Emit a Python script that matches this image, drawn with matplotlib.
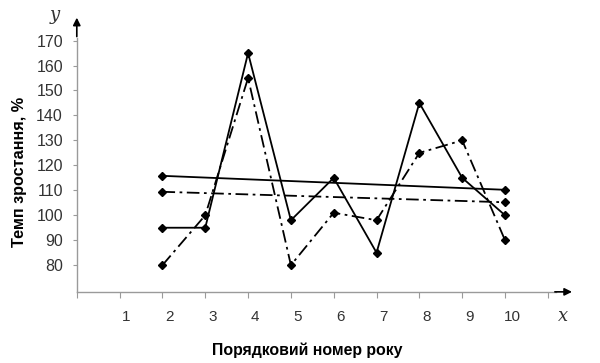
import numpy as np
import matplotlib
matplotlib.use('Agg')
from matplotlib import pyplot as plt
from matplotlib import transforms

# data
years = [2, 3, 4, 5, 6, 7, 8, 9, 10]
rate_a = [95, 95, 165, 98, 115, 85, 145, 115, 100]     # solid
rate_b = [80, 100, 155, 80, 101, 98, 125, 130, 90]     # dash-dot
trend_x = [2, 10]
trend_a = [115.8, 110.2]
trend_b = [109.4, 105.2]
xtick_pos = list(range(0, 12))
xtick_lab = [''] + [str(i) for i in range(1, 11)] + ['']
ytick_pos = list(range(80, 171, 10))

plt.rcParams['font.family'] = ['Liberation Sans', 'DejaVu Sans']

fig = plt.figure(figsize=(6, 3.63), dpi=100)
ax = fig.add_axes([0.128, 0.196, 0.83, 0.763])

dashdot = (0, (7, 2.5, 1.5, 2.5))
mk = dict(marker='D', markersize=4.5, color='black', lw=1.3)
ax.plot(years, rate_a, linestyle='-', **mk)
ax.plot(years, rate_b, linestyle=dashdot, **mk)
ax.plot(trend_x, trend_a, linestyle='-', **mk)
ax.plot(trend_x, trend_b, linestyle=dashdot, **mk)

ax.set_xlim(0, 11.63)
ax.set_ylim(69.3, 180.3)

for s in ['top', 'right']:
    ax.spines[s].set_visible(False)
for s in ['left', 'bottom']:
    ax.spines[s].set_color('#9a9a9a')
    ax.spines[s].set_linewidth(1.0)
ax.spines['left'].set_bounds(69.3, 171)
ax.spines['bottom'].set_bounds(0, 11.2)

ax.set_xticks(xtick_pos)
ax.set_xticklabels(xtick_lab)
ax.set_yticks(ytick_pos)
ax.tick_params(axis='x', length=4, color='#9a9a9a', pad=9, labelsize=11, labelcolor='#333333')
ax.tick_params(axis='y', length=3, color='#9a9a9a', pad=7, labelsize=11.5, labelcolor='#333333')
off = transforms.ScaledTranslation(5 / 72, 0, fig.dpi_scale_trans)
for lab in ax.get_xticklabels():
    lab.set_transform(lab.get_transform() + off)

# arrows at the axis ends
ax.annotate('', xy=(0, 180.3), xytext=(0, 170.5), annotation_clip=False,
            arrowprops=dict(arrowstyle='-|>', color='black', lw=1.2, mutation_scale=11))
ax.annotate('', xy=(11.63, 69.3), xytext=(11.1, 69.3), annotation_clip=False,
            arrowprops=dict(arrowstyle='-|>', color='black', lw=1.2, mutation_scale=11))

fig.text(55 / 600, 1 - 15 / 363, 'y', fontstyle='italic', family='DejaVu Serif',
         fontsize=13, ha='center', va='center', color='#333333')
fig.text(563 / 600, 1 - 316 / 363, 'x', fontstyle='italic', family='DejaVu Serif',
         fontsize=13, ha='center', va='center', color='#333333')

fig.text(20 / 600, 1 - 172 / 363, 'Темп зростання, %', rotation=90, fontweight='bold',
         fontsize=11.7, ha='center', va='center')
fig.text(307 / 600, 1 - 350 / 363, 'Порядковий номер року', fontweight='bold',
         fontsize=11.4, ha='center', va='center')

fig.savefig('out.png', dpi=100)
